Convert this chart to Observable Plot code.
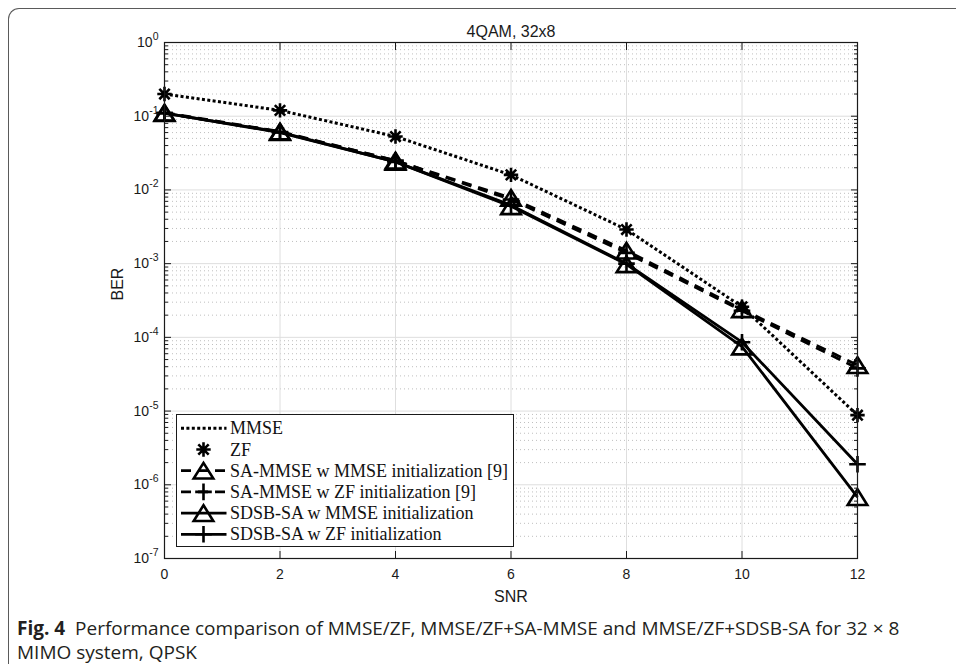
<!DOCTYPE html>
<html><head><meta charset="utf-8">
<script src="https://cdn.jsdelivr.net/npm/d3@7"></script>
<script src="https://cdn.jsdelivr.net/npm/@observablehq/plot@0.6"></script>
<style>
html,body{margin:0;padding:0;background:#fff}
body{width:956px;height:664px;overflow:hidden;position:relative;font-family:"Liberation Sans",Arial,sans-serif}
#frame{position:absolute;left:8px;top:8px;width:1000px;height:700px;border-left:1.4px solid #5a5a5a;border-top:1.4px solid #5a5a5a;border-top-left-radius:11px;box-sizing:border-box}
#chart{position:absolute;left:0;top:0}
#legend{position:absolute;left:176px;top:414px}
#caption{position:absolute;left:17px;top:616px;font-family:"Open Sans",sans-serif;font-size:19px;line-height:24px;color:#231f20;white-space:nowrap}
#caption b{font-weight:700;color:#231f20}
</style></head><body>
<div id="frame"></div>
<div id="chart"></div>
<div id="legend"></div>
<div id="caption"></div>
<script>
// ---- data ----
const snr = [0, 2, 4, 6, 8, 10, 12];
const berMMSE      = [0.2, 0.12, 0.053, 0.016, 0.0029, 2.6e-4, 8.8e-6];
const berZF        = [0.2, 0.12, 0.053, 0.016, 0.0029, 2.6e-4, 8.8e-6];
const berSaMmse    = [0.112, 0.062, 0.025, 0.0078, 0.0015, 2.4e-4, 4.2e-5];
const berSaZf      = [0.11, 0.061, 0.025, 0.0074, 0.0014, 2.3e-4, 3.8e-5];
const berSdsbMmse  = [0.11, 0.061, 0.024, 0.006, 0.00098, 7.5e-5, 6.8e-7];
const berSdsbZf    = [0.11, 0.06, 0.024, 0.0062, 0.001, 8.6e-5, 1.9e-6];
const seriesNames = ["MMSE", "ZF", "SA-MMSE w MMSE initialization [9]", "SA-MMSE w ZF initialization [9]", "SDSB-SA w MMSE initialization", "SDSB-SA w ZF initialization"];
const xTicks = [0, 2, 4, 6, 8, 10, 12];
const yExponents = [-7, -6, -5, -4, -3, -2, -1, 0];
const titleText = "4QAM, 32x8";
const xLabel = "SNR";
const yLabel = "BER";

// ---- styles ----
const lineStyle = ["dot", null, "dash", "dash", "solid", "solid"];
const markerStyle = [null, "star", "tri", "plus", "tri", "plus"];
const dashes = {dot: "3,2.4", dash: "10,7", solid: null};

const triSym = {draw(ctx, size) { const r = Math.sqrt(size / Math.PI); const h = r * 0.8; ctx.moveTo(0, -h); ctx.lineTo(r, h); ctx.lineTo(-r, h); ctx.closePath(); }};
const plusSym = {draw(ctx, size) { const r = Math.sqrt(size / Math.PI); ctx.moveTo(-r, 0); ctx.lineTo(r, 0); ctx.moveTo(0, -r); ctx.lineTo(0, r); }};
const starSym = {draw(ctx, size) { const r = Math.sqrt(size / Math.PI); const d = r * 0.72; ctx.moveTo(-r, 0); ctx.lineTo(r, 0); ctx.moveTo(0, -r); ctx.lineTo(0, r); ctx.moveTo(-d, -d); ctx.lineTo(d, d); ctx.moveTo(-d, d); ctx.lineTo(d, -d); }};
const symbols = {tri: triSym, plus: plusSym, star: starSym};
const symR = {tri: 9.8, plus: 8.3, star: 7.2};

const allValues = [berMMSE, berZF, berSaMmse, berSaZf, berSdsbMmse, berSdsbZf];
const series = seriesNames.map((name, k) => ({
  name, line: lineStyle[k], marker: markerStyle[k],
  data: snr.map((s, i) => ({snr: s, ber: allValues[k][i]}))
}));

const yMajor = yExponents.map(e => Math.pow(10, e));
const yMinor = yExponents.slice(0, -1).flatMap(e => [2,3,4,5,6,7,8,9].map(m => m * Math.pow(10, e)));

const W = 956, H = 610;
const marks = [
  Plot.gridY(yMinor, {stroke: "#b8b8b8", strokeOpacity: 0.9, strokeDasharray: "1,3"}),
  Plot.gridY(yMajor, {stroke: "#dedede", strokeOpacity: 1}),
  Plot.gridX(xTicks, {stroke: "#dedede", strokeOpacity: 1}),
];
series.forEach(s => {
  if (s.line) marks.push(Plot.line(s.data, {x: "snr", y: "ber", stroke: "black", strokeWidth: s.line === "dot" ? 3 : 2.8, strokeDasharray: dashes[s.line], strokeLinecap: "butt", strokeLinejoin: "miter"}));
});
series.forEach(s => {
  if (s.marker) marks.push(Plot.dot(s.data, {x: "snr", y: "ber", symbol: symbols[s.marker], r: symR[s.marker], fill: "none", stroke: "black", strokeWidth: 2.6}));
});
marks.push(
  Plot.frame({stroke: "#1a1a1a", strokeWidth: 1.2}),
  Plot.axisY(yMajor, {anchor: "left", tickSize: 7, insetLeft: 7, fill: "none", stroke: "#1a1a1a", label: null}),
  Plot.axisY(yMajor, {anchor: "right", tickSize: 7, insetRight: 7, fill: "none", stroke: "#1a1a1a", label: null}),
  Plot.axisY(yMinor, {anchor: "left", tickSize: 4, insetLeft: 4, fill: "none", stroke: "#1a1a1a", label: null}),
  Plot.axisY(yMinor, {anchor: "right", tickSize: 4, insetRight: 4, fill: "none", stroke: "#1a1a1a", label: null}),
  Plot.axisX(xTicks, {anchor: "bottom", tickSize: 7, insetBottom: 7, fill: "none", stroke: "#1a1a1a", label: null}),
  Plot.axisX(xTicks, {anchor: "top", tickSize: 7, insetTop: 7, fill: "none", stroke: "#1a1a1a", label: null}),
  Plot.axisY(yMajor, {anchor: "left", tickSize: 0, tickPadding: 6, fontSize: 14, fill: "#1a1a1a", label: null, tickFormat: d => "10^" + Math.round(Math.log10(d))}),
  Plot.axisX(xTicks, {anchor: "bottom", tickSize: 0, tickPadding: 11, fontSize: 14, fill: "#1a1a1a", label: null}),
  Plot.text([titleText], {text: d => d, frameAnchor: "top", lineAnchor: "middle", dy: -11, fontSize: 16, fill: "#1a1a1a"}),
  Plot.text([xLabel], {text: d => d, frameAnchor: "bottom", lineAnchor: "middle", dy: 38, fontSize: 16, fill: "#1a1a1a"}),
  Plot.text([yLabel], {text: d => d, frameAnchor: "left", lineAnchor: "middle", dx: -47, rotate: -90, fontSize: 16, fill: "#1a1a1a"})
);

const chart = Plot.plot({
  width: W, height: H,
  marginLeft: 164, marginRight: 99, marginTop: 42, marginBottom: H - 558,
  style: {background: "none", fontFamily: "'Liberation Sans', Arial, sans-serif"},
  x: {domain: [0, 12], label: null},
  y: {type: "log", domain: [1e-7, 1], label: null},
  marks
});
// superscript exponents on the y tick labels
d3.select(chart).selectAll("text").each(function() {
  const t = this.textContent;
  const m = /^10\^(-?\d+)$/.exec(t);
  if (m) {
    const el = d3.select(this);
    el.text("10");
    el.append("tspan").attr("dy", -7).attr("font-size", 10.5).text(m[1]);
  }
});
document.getElementById("chart").appendChild(chart);

// ---- legend ----
const LW = 337, LH = 132;
const leg = d3.create("svg").attr("width", LW + 1).attr("height", LH + 1);
leg.append("rect").attr("x", 0.5).attr("y", 0.5).attr("width", LW).attr("height", LH).attr("fill", "white").attr("stroke", "#1a1a1a").attr("stroke-width", 1);
series.forEach((s, i) => {
  const cy = 14.3 + i * 21.2;
  if (s.line) leg.append("line").attr("x1", 5).attr("x2", 50.5).attr("y1", cy).attr("y2", cy)
    .attr("stroke", "black").attr("stroke-width", s.line === "dot" ? 3 : 2.8).attr("stroke-dasharray", dashes[s.line]);
  if (s.marker) leg.append("path").attr("d", d3.symbol(symbols[s.marker], Math.PI * symR[s.marker] ** 2)())
    .attr("transform", `translate(27.5,${cy})`).attr("fill", "none").attr("stroke", "black").attr("stroke-width", 2.6);
  leg.append("text").attr("x", 54).attr("y", cy).attr("dy", "0.34em")
    .attr("font-family", "'Liberation Serif', 'Times New Roman', serif").attr("font-size", 18).attr("fill", "#111").text(s.name);
});
document.getElementById("legend").appendChild(leg.node());

// ---- caption ----
document.getElementById("caption").innerHTML =
  "<b>Fig. 4</b>&nbsp; Performance comparison of MMSE/ZF, MMSE/ZF+SA-MMSE and MMSE/ZF+SDSB-SA for 32 × 8<br>MIMO system, QPSK";
</script>
</body></html>
